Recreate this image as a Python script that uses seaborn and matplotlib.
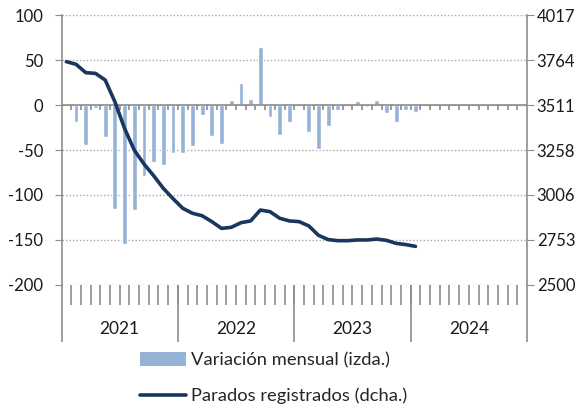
import pandas as pd
import matplotlib
matplotlib.use("Agg")
import matplotlib.pyplot as plt
from matplotlib.patches import Patch
from matplotlib.lines import Line2D
import seaborn as sns

# months Jan 2021 .. Jan 2024 (data), axis runs to Dec 2024
years = ["2021", "2022", "2023", "2024"]
n_months = 48

# monthly change, thousands (left axis)
var_mensual = [
    None, -19, -44, -3, -36, -116, -154, -117, -79, -63, -67, -53,
    -53, -46, -11, -34, -43, 6, 25, 7, 64, -13, -33, -19,
    None, -30, -49, -23, -5, None, 5, -2, 6, -9, -19, -5,
    -8,
]

# registered unemployed, thousands (right axis)
parados = [
    3755, 3740, 3693, 3689, 3652, 3530, 3380, 3258, 3180, 3114, 3043, 2985,
    2931, 2903, 2889, 2856, 2818, 2824, 2850, 2860, 2921, 2912, 2875, 2860,
    2856, 2832, 2779, 2755, 2749, 2749, 2753, 2753, 2758, 2751, 2734, 2727,
    2717,
]

right_ticks = [2500, 2753, 3006, 3258, 3511, 3764, 4017]

bar_color = "#95b3d7"
line_color = "#17375e"
axis_gray = "#8c8c8c"

df = pd.DataFrame({"mes": range(len(var_mensual)),
                   "var": pd.to_numeric(pd.Series(var_mensual), errors="coerce"),
                   "parados": parados})

sns.set_style("white")
plt.rcParams["font.family"] = ["Lato", "DejaVu Sans"]
plt.rcParams["axes.unicode_minus"] = False

fig, ax = plt.subplots(figsize=(5.87, 4.09), dpi=100)
fig.subplots_adjust(left=0.1048, right=0.8978, top=0.9633, bottom=0.3032)

sns.barplot(data=df, x="mes", y="var", order=list(range(n_months)),
            color=bar_color, saturation=1, width=0.5, errorbar=None, ax=ax)

ax.set_xlim(-0.5, n_months - 0.5)
ax.set_ylim(-200, 100)
ax.set_yticks(range(-200, 101, 50))
ax.set_xticks([])
ax.set_xlabel("")
ax.set_ylabel("")
ax.yaxis.grid(True, linestyle=(0, (1, 1.5)), color="#a6a6a6", lw=1)
ax.set_axisbelow(True)
ax.axhline(0, color=axis_gray, lw=1.2, zorder=1)

for s in ["top", "bottom"]:
    ax.spines[s].set_visible(False)
for s in ["left", "right"]:
    ax.spines[s].set_color(axis_gray)
    ax.spines[s].set_linewidth(1.2)
ax.tick_params(axis="y", length=5, color=axis_gray, pad=8, labelsize=12,
               labelcolor="#1a1a1a", left=True)

# month tick marks on the zero line and below the plot
bounds = [i - 0.5 for i in range(1, n_months)]
ax.vlines(bounds, 0, -5.5, color=axis_gray, lw=1.2, zorder=1)
xt = ax.get_xaxis_transform()
ax.vlines(bounds, -20 / 270, 0, transform=xt, color=axis_gray, lw=1.2,
          clip_on=False)
year_edges = [-0.5, 11.5, 23.5, 35.5, 47.5]
ax.vlines(year_edges, -57 / 270, 0, transform=xt, color=axis_gray, lw=1.2,
          clip_on=False)
for i, y in enumerate(years):
    ax.text(12 * i + 5.5, -44 / 270, y, transform=xt, ha="center",
            va="center", fontsize=12.5, color="#1a1a1a")

# right axis line
ax2 = ax.twinx()
sns.lineplot(data=df, x="mes", y="parados", color=line_color, lw=2.6, ax=ax2)
ax2.set_ylim(2500, 4017)
ax2.set_yticks(right_ticks)
ax2.set_ylabel("")
for s in ax2.spines.values():
    s.set_visible(False)
ax2.tick_params(axis="y", length=5, color=axis_gray, pad=2, labelsize=12,
                labelcolor="#1a1a1a", right=True)
ax.set_xlim(-0.5, n_months - 0.5)

handles = [Patch(facecolor=bar_color, edgecolor="none"),
           Line2D([], [], color=line_color, lw=2.6)]
fig.legend(handles, ["Variación mensual (izda.)", "Parados registrados (dcha.)"],
           loc="upper left", bbox_to_anchor=(140 / 587, 1 - 352 / 409),
           frameon=False, fontsize=13.2, handlelength=2.5, handleheight=0.8,
           handletextpad=0.3, labelspacing=1.05, borderpad=0, borderaxespad=0)

fig.savefig("out.png", dpi=100)
